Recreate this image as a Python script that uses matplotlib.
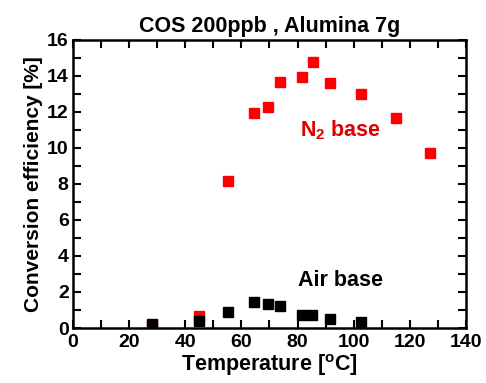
import matplotlib
matplotlib.use("Agg")
import matplotlib.pyplot as plt
from matplotlib.ticker import MultipleLocator

plt.rcParams['font.family'] = ['Liberation Sans', 'DejaVu Sans']
plt.rcParams['font.weight'] = 'bold'
plt.rcParams['mathtext.fontset'] = 'custom'
plt.rcParams['mathtext.rm'] = 'Liberation Sans:bold'
plt.rcParams['mathtext.bf'] = 'Liberation Sans:bold'

# N2 base series
n2_temp = [28.0, 45.0, 55.3, 64.5, 69.6, 73.7, 81.5, 85.6, 91.6, 102.5, 115.1, 127.0]
n2_eff = [0.12, 0.65, 8.18, 11.96, 12.25, 13.68, 13.96, 14.79, 13.63, 12.98, 11.68, 9.70]

# Air base series
air_temp = [28.0, 45.0, 55.3, 64.5, 69.6, 73.7, 81.5, 85.2, 91.6, 102.5]
air_eff = [0.20, 0.37, 0.89, 1.45, 1.35, 1.20, 0.74, 0.74, 0.50, 0.33]

fig = plt.figure(figsize=(4.86, 3.83), dpi=100)
ax = fig.add_axes([0.150, 0.1436, 0.809, 0.752])

ax.plot(n2_temp, n2_eff, 's', color='#ff0000', ms=7, mec='#ff0000')
ax.plot(air_temp, air_eff, 's', color='black', ms=7)

ax.set_xlim(0, 140)
ax.set_ylim(0, 16)
ax.xaxis.set_major_locator(MultipleLocator(20))
ax.xaxis.set_minor_locator(MultipleLocator(10))
ax.yaxis.set_major_locator(MultipleLocator(2))
ax.yaxis.set_minor_locator(MultipleLocator(1))
ax.tick_params(which='both', direction='in', top=True, right=True, width=1.5,
               labelsize=14, length=6)
ax.tick_params(axis='x', pad=4)
ax.tick_params(axis='y', pad=3)
for s in ax.spines.values():
    s.set_linewidth(1.8)

ax.set_xlabel(r'Temperature [$^\mathbf{o}$C]', fontsize=15.5, fontweight='bold', labelpad=1)
ax.set_ylabel('Conversion efficiency [%]', fontsize=15, fontweight='bold', labelpad=3)
ax.set_title('COS 200ppb , Alumina 7g', fontsize=15.5, fontweight='bold', pad=6)

ax.text(80.9, 11.0, r'N$_\mathbf{2}$ base', color='#e00000', fontsize=15.5,
        fontweight='bold', va='center', ha='left')
ax.text(80.3, 2.65, 'Air base', color='black', fontsize=15.5,
        fontweight='bold', va='center', ha='left')

fig.savefig('out.png', dpi=100)
